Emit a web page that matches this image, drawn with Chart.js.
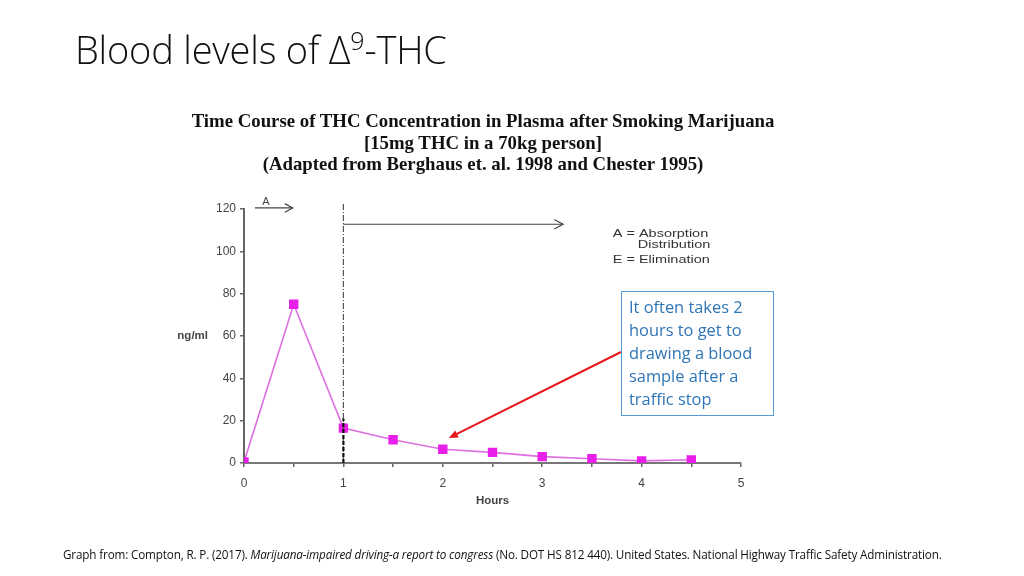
<!DOCTYPE html>
<html><head><meta charset="utf-8">
<script src="https://cdn.jsdelivr.net/npm/chart.js@4"></script>
<style>
html,body{margin:0;padding:0;background:#fff;width:1024px;height:576px;overflow:hidden;}
#wrap{position:absolute;left:0;top:0;width:1024px;height:576px;}
.abs{position:absolute;white-space:nowrap;}
#slideTitle{left:75px;top:23px;font-family:"Open Sans",sans-serif;font-weight:300;font-size:38px;line-height:52px;color:#111;letter-spacing:-0.2px;}
#slideTitle sup{font-size:25px;vertical-align:0;position:relative;top:-14px;}
#chartTitle{left:183px;top:110px;width:600px;text-align:center;font-family:"Liberation Serif",serif;font-weight:bold;font-size:18.8px;line-height:21.5px;color:#111;}
#callout{left:621px;top:291px;width:151px;height:123px;border:1px solid #5b9bd5;box-sizing:content-box;font-family:"Open Sans",sans-serif;font-size:16.4px;line-height:23px;color:#2e75b6;padding:0;}
#callout div{position:absolute;left:7px;top:3px;white-space:nowrap;}
#foot{left:63px;top:546px;font-family:"Open Sans",sans-serif;font-size:11.7px;color:#111;letter-spacing:-0.15px;}
</style></head>
<body>
<div id="wrap"><canvas id="c" width="1024" height="576"></canvas></div>
<div id="slideTitle" class="abs">Blood levels of Δ<sup>9</sup>-THC</div>
<div id="chartTitle" class="abs">Time Course of THC Concentration in Plasma after Smoking Marijuana<br>[15mg THC in a 70kg person]<br>(Adapted from Berghaus et. al. 1998 and Chester 1995)</div>
<div id="callout" class="abs"><div>It often takes 2<br>hours to get to<br>drawing a blood<br>sample after a<br>traffic stop</div></div>
<div id="foot" class="abs">Graph from: Compton, R. P. (2017). <i>Marijuana-impaired driving-a report to congress</i> (No. DOT HS 812 440). United States. National Highway Traffic Safety Administration.</div>
<script>
const hours = [0, 0.5, 1, 1.5, 2, 2.5, 3, 3.5, 4, 4.5];
const thcNgPerMl = [0.5, 75, 16.5, 11, 6.5, 5, 3, 2, 1, 1.5];
const xTickLabels = [0, 1, 2, 3, 4, 5];
const yTickValues = [0, 20, 40, 60, 80, 100, 120];
const phaseLegend = ["A = Absorption", "Distribution", "E = Elimination"];

const tickFont = {family: "Liberation Sans, Arial, sans-serif", size: 12};

function arrowOpen(ctx, x1, y1, x2, y2, head) {
  ctx.beginPath(); ctx.moveTo(x1, y1); ctx.lineTo(x2, y2); ctx.stroke();
  const a = Math.atan2(y2 - y1, x2 - x1);
  ctx.beginPath();
  ctx.moveTo(x2 - head * Math.cos(a - 0.5), y2 - head * Math.sin(a - 0.5));
  ctx.lineTo(x2, y2);
  ctx.lineTo(x2 - head * Math.cos(a + 0.5), y2 - head * Math.sin(a + 0.5));
  ctx.stroke();
}

function stretchText(ctx, txt, x, y, sx) {
  ctx.save(); ctx.translate(x, y); ctx.scale(sx, 1); ctx.fillText(txt, 0, 0); ctx.restore();
}

const annot = {
  id: 'annot',
  afterDatasetsDraw(chart) {
    const ctx = chart.ctx, xs = chart.scales.x, ys = chart.scales.y;
    ctx.save();
    // dash-dot vertical at 1 h
    ctx.strokeStyle = '#555'; ctx.lineWidth = 1.2;
    ctx.setLineDash([6, 2, 1, 2]);
    ctx.beginPath(); ctx.moveTo(xs.getPixelForValue(1), ys.getPixelForValue(0));
    ctx.lineTo(xs.getPixelForValue(1), ys.getPixelForValue(123)); ctx.stroke();
    // heavy dashed black short segment at 1 h
    ctx.strokeStyle = '#111'; ctx.lineWidth = 2.2; ctx.setLineDash([4, 2]);
    ctx.beginPath(); ctx.moveTo(xs.getPixelForValue(1), ys.getPixelForValue(0));
    ctx.lineTo(xs.getPixelForValue(1), ys.getPixelForValue(21)); ctx.stroke();
    ctx.setLineDash([]);
    // A arrow
    ctx.strokeStyle = '#444'; ctx.lineWidth = 1.2;
    const ya = ys.getPixelForValue(120.5);
    arrowOpen(ctx, xs.getPixelForValue(0.11), ya, xs.getPixelForValue(0.49), ya, 9);
    ctx.fillStyle = '#444'; ctx.font = '11px Liberation Sans, Arial, sans-serif';
    ctx.textAlign = 'center'; ctx.textBaseline = 'alphabetic';
    ctx.fillText('A', xs.getPixelForValue(0.22), ya - 3);
    // E arrow
    const ye = ys.getPixelForValue(112.8);
    arrowOpen(ctx, xs.getPixelForValue(1), ye, xs.getPixelForValue(3.21), ye, 10);
    // phase legend
    ctx.textAlign = 'left'; ctx.fillStyle = '#333';
    ctx.font = '11.5px Liberation Sans, Arial, sans-serif';
    const lx = xs.getPixelForValue(3.71);
    stretchText(ctx, phaseLegend[0], lx, 237, 1.26);
    stretchText(ctx, phaseLegend[1], lx + 25, 248, 1.26);
    stretchText(ctx, phaseLegend[2], lx, 263, 1.26);
    // axis titles
    ctx.font = 'bold 11.5px Liberation Sans, Arial, sans-serif'; ctx.fillStyle = '#444';
    ctx.textAlign = 'center';
    ctx.fillText('Hours', xs.getPixelForValue(2.5), ys.getPixelForValue(0) + 41);
    ctx.textAlign = 'right'; ctx.textBaseline = 'middle';
    ctx.fillText('ng/ml', xs.left - 36, ys.getPixelForValue(60));
    // red callout arrow
    const tx = xs.getPixelForValue(2.06), ty = ys.getPixelForValue(11.8);
    const sx = 621, sy = 352;
    ctx.strokeStyle = '#e8161c'; ctx.fillStyle = '#e8161c'; ctx.lineWidth = 2;
    const a = Math.atan2(ty - sy, tx - sx);
    const hl = 10;
    ctx.beginPath(); ctx.moveTo(sx, sy);
    ctx.lineTo(tx - hl * 0.8 * Math.cos(a), ty - hl * 0.8 * Math.sin(a)); ctx.stroke();
    ctx.beginPath(); ctx.moveTo(tx, ty);
    ctx.lineTo(tx - hl * Math.cos(a - 0.4), ty - hl * Math.sin(a - 0.4));
    ctx.lineTo(tx - hl * Math.cos(a + 0.4), ty - hl * Math.sin(a + 0.4));
    ctx.closePath(); ctx.fill();
    ctx.restore();
  }
};

new Chart(document.getElementById('c'), {
  type: 'line',
  data: {
    datasets: [{
      data: hours.map((h, i) => ({x: h, y: thcNgPerMl[i]})),
      borderColor: '#dd6fe0',
      borderWidth: 1.6,
      pointStyle: 'rect',
      pointRadius: 5.5,
      pointBackgroundColor: '#e81fe8',
      pointBorderColor: '#e81fe8',
      tension: 0
    }]
  },
  options: {
    responsive: false,
    animation: false,
    events: [],
    layout: {padding: {left: 204, right: 283, top: 209, bottom: 83}},
    plugins: {legend: {display: false}, tooltip: {enabled: false}},
    scales: {
      x: {
        type: 'linear', min: 0, max: 5,
        afterFit(s) { s.height = 30; },
        afterBuildTicks(s) { s.ticks = []; for (let i = 0; i <= 10; i++) s.ticks.push({value: i / 2}); },
        ticks: {
          font: tickFont, color: '#444', padding: 9, maxRotation: 0, autoSkip: false,
          callback: (v) => xTickLabels.includes(v) ? String(v) : ''
        },
        grid: {drawOnChartArea: false, drawTicks: true, tickLength: 4, color: '#666', lineWidth: 1.5},
        border: {color: '#777', width: 2}
      },
      y: {
        min: 0, max: 120,
        afterFit(s) { s.width = 40; },
        afterBuildTicks(s) { s.ticks = yTickValues.map(v => ({value: v})); },
        ticks: {font: tickFont, color: '#444', padding: 4},
        grid: {drawOnChartArea: false, drawTicks: true, tickLength: 4, color: '#666', lineWidth: 1.5},
        border: {color: '#666', width: 2}
      }
    }
  },
  plugins: [annot]
});
</script>
</body></html>
